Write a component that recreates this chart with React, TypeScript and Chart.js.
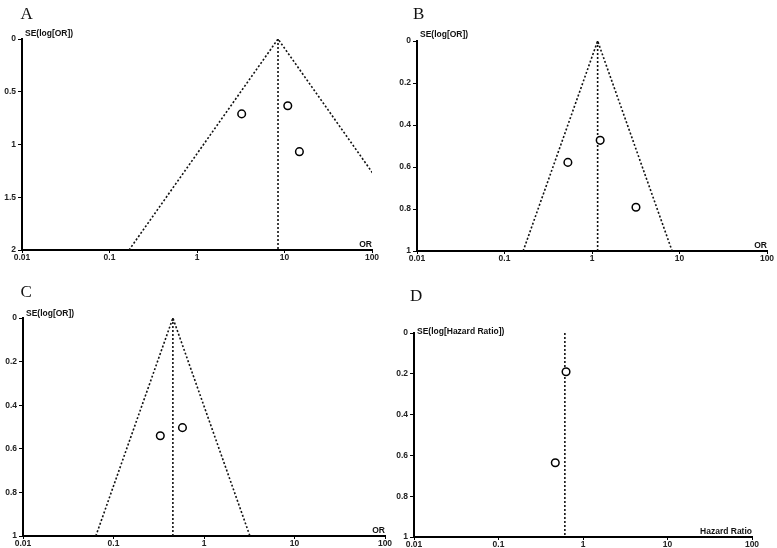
import React, { useEffect, useRef } from "react";
import { Chart, registerables } from "chart.js";

Chart.register(...registerables);

// ---------- shared axis ticks ----------
const xTickValues = [0.01, 0.1, 1, 10, 100];
const xTickLabels = ["0.01", "0.1", "1", "10", "100"];

// ---------- Panel A ----------
const studiesA_OR = [3.24, 10.9, 14.8];
const studiesA_SE = [0.71, 0.632, 1.068];
const pooledA = 8.43;
const yTicksA = [0, 0.5, 1, 1.5, 2];
const yLabelsA = ["0", "0.5", "1", "1.5", "2"];

// ---------- Panel B ----------
const studiesB_OR = [0.53, 1.24, 3.18];
const studiesB_SE = [0.578, 0.473, 0.792];
const pooledB = 1.16;
const yTicksB = [0, 0.2, 0.4, 0.6, 0.8, 1];
const yLabelsB = ["0", "0.2", "0.4", "0.6", "0.8", "1"];

// ---------- Panel C ----------
const studiesC_OR = [0.329, 0.578];
const studiesC_SE = [0.54, 0.503];
const pooledC = 0.453;
const yTicksC = [0, 0.2, 0.4, 0.6, 0.8, 1];
const yLabelsC = ["0", "0.2", "0.4", "0.6", "0.8", "1"];

// ---------- Panel D ----------
const studiesD_HR = [0.63, 0.47];
const studiesD_SE = [0.19, 0.636];
const pooledD = 0.61;
const yTicksD = [0, 0.2, 0.4, 0.6, 0.8, 1];
const yLabelsD = ["0", "0.2", "0.4", "0.6", "0.8", "1"];

const Z = 1.96;
const SANS = '"Liberation Sans Narrow", "Liberation Sans", Arial, sans-serif';

type PanelDef = {
  letter: string;
  ratios: number[];
  ses: number[];
  pooled: number;
  yTicks: number[];
  yLabels: string[];
  funnel: boolean;
  yTitle: string;
  xTitle: string;
  cx: number; cy: number; cw: number; ch: number;
  L: number; R: number; T: number; B: number;
  yTitleDy: number;
  letterLeft: number; letterTop: number;
};

const panels: PanelDef[] = [
  {
    letter: "A", ratios: studiesA_OR, ses: studiesA_SE, pooled: pooledA,
    yTicks: yTicksA, yLabels: yLabelsA, funnel: true,
    yTitle: "SE(log[OR])", xTitle: "OR",
    cx: 0, cy: 0, cw: 390, ch: 270, L: 22, R: 372, T: 39, B: 250,
    yTitleDy: -3, letterLeft: 20.5, letterTop: 5,
  },
  {
    letter: "B", ratios: studiesB_OR, ses: studiesB_SE, pooled: pooledB,
    yTicks: yTicksB, yLabels: yLabelsB, funnel: true,
    yTitle: "SE(log[OR])", xTitle: "OR",
    cx: 390, cy: 0, cw: 387, ch: 270, L: 417, R: 767, T: 41, B: 251,
    yTitleDy: -4, letterLeft: 413, letterTop: 5,
  },
  {
    letter: "C", ratios: studiesC_OR, ses: studiesC_SE, pooled: pooledC,
    yTicks: yTicksC, yLabels: yLabelsC, funnel: true,
    yTitle: "SE(log[OR])", xTitle: "OR",
    cx: 0, cy: 270, cw: 395, ch: 278, L: 23, R: 385, T: 318, B: 536,
    yTitleDy: -2, letterLeft: 20.5, letterTop: 283,
  },
  {
    letter: "D", ratios: studiesD_HR, ses: studiesD_SE, pooled: pooledD,
    yTicks: yTicksD, yLabels: yLabelsD, funnel: false,
    yTitle: "SE(log[Hazard Ratio])", xTitle: "Hazard Ratio",
    cx: 390, cy: 270, cw: 387, ch: 278, L: 414, R: 752, T: 333, B: 537,
    yTitleDy: 1, letterLeft: 410, letterTop: 287,
  },
];

const titlePlugin = {
  id: "axisTitles",
  afterDraw(chart: any, _args: any, opts: any) {
    const { ctx, chartArea } = chart;
    ctx.save();
    ctx.fillStyle = "#111";
    ctx.font = `bold 8.5px ${SANS}`;
    ctx.textBaseline = "alphabetic";
    ctx.textAlign = "left";
    ctx.fillText(opts.yTitle, chartArea.left + 3, chartArea.top + opts.yTitleDy);
    ctx.textAlign = "right";
    ctx.fillText(opts.xTitle, chartArea.right, chartArea.bottom - 3);
    ctx.restore();
  },
};

function Panel({ p }: { p: PanelDef }) {
  const ref = useRef<HTMLCanvasElement | null>(null);

  useEffect(() => {
    if (!ref.current) return;
    const yMax = p.yTicks[p.yTicks.length - 1];
    const lp = Math.log(p.pooled);
    const lineStyle = {
      borderColor: "#111",
      borderWidth: 1.6,
      borderDash: [2, 2],
      pointRadius: 0,
      fill: false,
      tension: 0,
      showLine: true,
    };
    const datasets: any[] = [
      {
        type: "scatter",
        data: p.ratios.map((r, i) => ({ x: r, y: p.ses[i] })),
        pointRadius: 3.8,
        pointBorderWidth: 1.5,
        pointBorderColor: "#000",
        pointBackgroundColor: "#fff",
        showLine: false,
      },
      {
        type: "line",
        data: [{ x: p.pooled, y: 0 }, { x: p.pooled, y: yMax }],
        ...lineStyle,
      },
    ];
    if (p.funnel) {
      datasets.push({
        type: "line",
        data: [
          { x: Math.exp(lp - Z * yMax), y: yMax },
          { x: p.pooled, y: 0 },
          { x: Math.exp(lp + Z * yMax), y: yMax },
        ],
        ...lineStyle,
      });
    }

    const tickFont = { size: 8.5, family: SANS, weight: "bold" };
    const chart = new Chart(ref.current, {
      type: "scatter",
      data: { datasets },
      plugins: [titlePlugin],
      options: {
        responsive: false,
        animation: false,
        devicePixelRatio: 1,
        layout: {
          padding: { top: p.T - p.cy, right: p.cx + p.cw - p.R, left: 0, bottom: 0 },
        },
        plugins: {
          legend: { display: false },
          tooltip: { enabled: false },
          axisTitles: { yTitle: p.yTitle, xTitle: p.xTitle, yTitleDy: p.yTitleDy },
        } as any,
        scales: {
          x: {
            type: "logarithmic",
            position: "bottom",
            min: 0.01,
            max: 100,
            afterBuildTicks: (s: any) => {
              s.ticks = xTickValues.map((v) => ({ value: v }));
            },
            afterFit: (s: any) => {
              s.height = p.cy + p.ch - p.B;
            },
            ticks: {
              autoSkip: false,
              maxRotation: 0,
              padding: 0,
              color: "#222",
              font: tickFont,
              callback: (_v: any, i: number) => xTickLabels[i],
            },
            grid: { display: true, drawOnChartArea: false, drawTicks: true, tickLength: 3, color: "#000", lineWidth: 1 },
            border: { display: true, color: "#000", width: 2 },
          },
          y: {
            type: "linear",
            reverse: true,
            min: 0,
            max: yMax,
            afterBuildTicks: (s: any) => {
              s.ticks = p.yTicks.map((v) => ({ value: v }));
            },
            afterFit: (s: any) => {
              s.width = p.L - p.cx;
            },
            ticks: {
              autoSkip: false,
              padding: 2,
              color: "#222",
              font: tickFont,
              callback: (_v: any, i: number) => p.yLabels[i],
            },
            grid: { display: true, drawOnChartArea: false, drawTicks: true, tickLength: 4, color: "#000", lineWidth: 1 },
            border: { display: true, color: "#000", width: 2 },
          },
        },
      } as any,
    });
    return () => chart.destroy();
  }, [p]);

  return (
    <>
      <canvas
        ref={ref}
        width={p.cw}
        height={p.ch}
        style={{ position: "absolute", left: p.cx, top: p.cy, width: p.cw, height: p.ch }}
      />
      <div
        style={{
          position: "absolute",
          left: p.letterLeft,
          top: p.letterTop,
          fontFamily: '"Liberation Serif", "DejaVu Serif", serif',
          fontSize: 17,
          lineHeight: "17px",
          color: "#111",
        }}
      >
        {p.letter}
      </div>
    </>
  );
}

export default function App() {
  return (
    <div
      style={{
        position: "absolute",
        left: 0,
        top: 0,
        width: 777,
        height: 548,
        background: "#fff",
        overflow: "hidden",
      }}
    >
      {panels.map((p) => (
        <Panel key={p.letter} p={p} />
      ))}
    </div>
  );
}
